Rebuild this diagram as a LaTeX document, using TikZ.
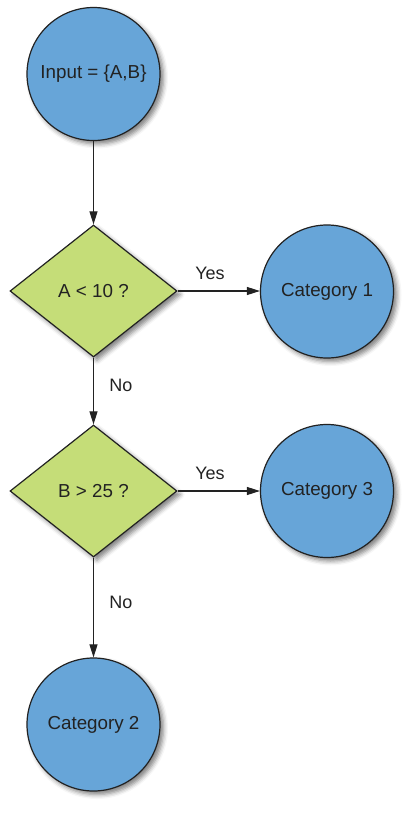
\documentclass[tikz,border=0pt]{standalone}
\usepackage{fontspec}
\setmainfont{Liberation Sans}
\usetikzlibrary{shapes.geometric,arrows.meta,shadows.blur}
\definecolor{cblue}{RGB}{103,165,216}
\definecolor{cgreen}{RGB}{197,221,120}
\definecolor{ink}{RGB}{34,34,34}
\begin{document}
\begin{tikzpicture}[x=1pt,y=-1pt,
  shd/.style={blur shadow={shadow xshift=3.5pt,shadow yshift=-3.5pt,shadow blur radius=4.5pt,shadow opacity=50}},
  catnode/.style={circle,draw=ink,line width=1.2pt,fill=cblue,minimum size=133pt,inner sep=0pt,shd,
    font=\fontsize{18.8}{22}\selectfont,text=ink},
  decnode/.style={diamond,draw=ink,line width=1.2pt,fill=cgreen,minimum width=167pt,minimum height=132pt,inner sep=0pt,shd,
    font=\fontsize{18.8}{22}\selectfont,text=ink},
  lbl/.style={font=\fontsize{18}{21}\selectfont,text=ink,inner sep=0pt},
  conn/.style={draw=ink,line width=1.1pt,-{Triangle[length=13pt,width=8pt]}}]
\useasboundingbox (0,0) rectangle (417,814);
\node[catnode] (in) at (93.5,74) {Input = \{A,B\}};
\node[decnode] (d1) at (93.5,291) {A < 10 ?};
\node[catnode] (c1) at (327,291.5) {Category 1};
\node[decnode] (d2) at (93.5,491) {B > 25 ?};
\node[catnode] (c3) at (327,491) {Category 3};
\node[catnode] (c2) at (93.5,724.5) {Category 2};
\draw[conn] (in) -- (d1);
\draw[conn] (d1.east) -- (c1.west |- d1.east);
\draw[conn] (d1) -- (d2);
\draw[conn] (d2.east) -- (c3.west |- d2.east);
\draw[conn] (d2) -- (c2);
\node[lbl] (y1) at (210,273) {Yes};
\node[lbl] (y2) at (210,473) {Yes};
\node[lbl] (n1) at (121,385) {No};
\node[lbl] (n2) at (121,602) {No};
\end{tikzpicture}
\end{document}
